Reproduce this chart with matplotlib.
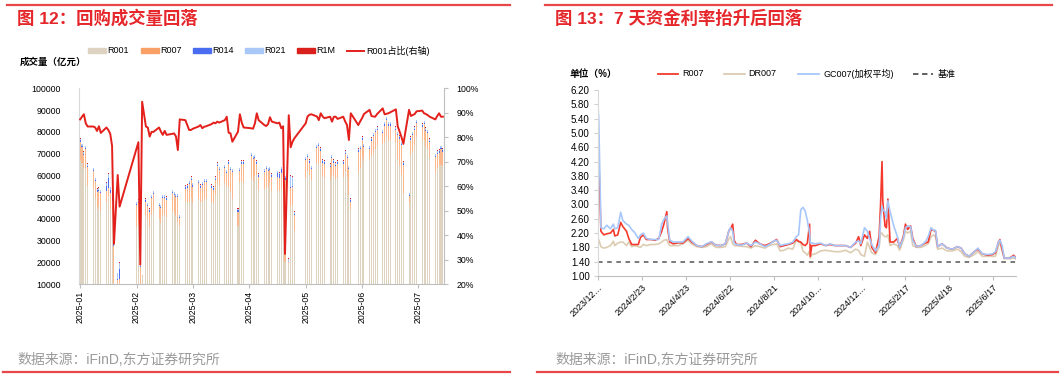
import matplotlib
matplotlib.use("Agg")
import matplotlib.pyplot as plt
from matplotlib.patches import Rectangle
from matplotlib.lines import Line2D
import numpy as np
import pandas as pd

plt.rcParams['font.family'] = ['Liberation Sans', 'Noto Sans CJK SC']
plt.rcParams['axes.unicode_minus'] = False

# ---------------- 图12 数据 (亿元) ----------------
days = [
    '2025-01-06', '2025-01-07', '2025-01-08', '2025-01-09', '2025-01-10',
    '2025-01-13', '2025-01-14', '2025-01-15', '2025-01-16', '2025-01-17',
    '2025-01-20', '2025-01-21', '2025-01-22', '2025-01-23', '2025-01-24',
    '2025-01-26', '2025-01-27',
    '2025-02-05', '2025-02-06', '2025-02-07', '2025-02-08',
    '2025-02-10', '2025-02-11', '2025-02-12', '2025-02-13', '2025-02-14',
    '2025-02-17', '2025-02-18', '2025-02-19', '2025-02-20', '2025-02-21',
    '2025-02-24', '2025-02-25', '2025-02-26', '2025-02-27', '2025-02-28',
    '2025-03-03', '2025-03-04', '2025-03-05', '2025-03-06', '2025-03-07',
    '2025-03-10', '2025-03-11', '2025-03-12', '2025-03-13', '2025-03-14',
    '2025-03-17', '2025-03-18', '2025-03-19', '2025-03-20', '2025-03-21',
    '2025-03-24', '2025-03-25', '2025-03-26', '2025-03-27', '2025-03-28',
    '2025-03-31', '2025-04-01', '2025-04-02', '2025-04-03',
    '2025-04-07', '2025-04-08', '2025-04-09', '2025-04-10', '2025-04-11',
    '2025-04-14', '2025-04-15', '2025-04-16', '2025-04-17', '2025-04-18',
    '2025-04-21', '2025-04-22', '2025-04-23', '2025-04-24', '2025-04-25',
    '2025-04-27', '2025-04-28', '2025-04-29', '2025-04-30',
    '2025-05-06', '2025-05-07', '2025-05-08', '2025-05-09',
    '2025-05-12', '2025-05-13', '2025-05-14', '2025-05-15', '2025-05-16',
    '2025-05-19', '2025-05-20', '2025-05-21', '2025-05-22', '2025-05-23',
    '2025-05-26', '2025-05-27', '2025-05-28', '2025-05-29', '2025-05-30',
    '2025-06-03', '2025-06-04', '2025-06-05', '2025-06-06',
    '2025-06-09', '2025-06-10', '2025-06-11', '2025-06-12', '2025-06-13',
    '2025-06-16', '2025-06-17', '2025-06-18', '2025-06-19', '2025-06-20',
    '2025-06-23', '2025-06-24', '2025-06-25', '2025-06-26', '2025-06-27',
    '2025-06-30', '2025-07-01', '2025-07-02', '2025-07-03', '2025-07-04',
    '2025-07-07', '2025-07-08', '2025-07-09', '2025-07-10', '2025-07-11',
    '2025-07-14', '2025-07-15', '2025-07-16', '2025-07-17', '2025-07-18',
]

r001 = [
    67200, 65900, 63500, 63000, 55300,
    53600, 49600, 44600, 46100, 43600,
    47700, 50600, 44700, 40800, 10500,
    9900, 10500,
    36200, 38200, 5200, 13700,
    41800, 39900, 36100, 41900, 43600,
    39900, 38300, 41300, 42100, 40900,
    43500, 42800, 41400, 38500, 36700,
    48300, 47600, 47700, 49400, 47200,
    49000, 47600, 47700, 49300, 49400,
    47800, 47300, 51000, 57000, 55000,
    56600, 55300, 54900, 52200, 49300,
    37000, 56800, 57600, 56300,
    59000, 57600, 59600, 60200, 53100,
    53600, 54600, 54200, 56400, 52700,
    53100, 52900, 53600, 53200, 20100,
    19600, 45500, 46500, 34600,
    58700, 62000, 60200, 57700,
    65500, 65300, 65600, 59700, 58800,
    57900, 60000, 59700, 58300, 58600,
    59200, 61800, 59100, 50900, 44500,
    61600, 63600, 68500, 66700,
    67000, 68700, 70400, 72000, 73800,
    74400, 75500, 78000, 75900, 76200,
    75400, 67500, 64600, 60400, 51400,
    47400, 69200, 71300, 73800, 77500,
    76400, 76300, 73400, 72100, 68100,
    61100, 63400, 64700, 65000, 64100,
]

r007 = [
    8200, 7000, 5900, 8900, 8600,
    8300, 7800, 7800, 6800, 8100,
    5100, 3400, 7100, 8000, 17300,
    2200, 1900,
    10200, 9200, 12700, 500,
    6100, 6000, 7300, 7500, 7800,
    6000, 6600, 8100, 7300, 8000,
    8400, 8100, 8500, 11400, 3700,
    5600, 6800, 8200, 8500, 7700,
    7400, 6800, 7700, 7600, 7500,
    6600, 6100, 6900, 7400, 7400,
    6800, 5600, 10500, 10200, 12100,
    6400, 5100, 7800, 9100,
    9900, 9800, 8300, 5200, 6300,
    7800, 8300, 7700, 6000, 6700,
    6400, 6100, 7400, 6300, 37900,
    600, 8500, 8000, 7300,
    8200, 6400, 5700, 5200,
    6900, 8100, 5800, 6200, 6600,
    6000, 7900, 6200, 6100, 6800,
    6200, 8100, 8800, 12000, 3400,
    9300, 8300, 7900, 6200,
    4900, 7200, 7500, 7900, 7100,
    5000, 7400, 7400, 7000, 6700,
    5500, 10900, 12300, 13500, 13500,
    3000, 7200, 7100, 7100, 6400,
    6000, 7100, 7000, 7300, 7300,
    7300, 6500, 5700, 6900, 6800,
]

r014 = [
    700, 600, 500, 800, 600,
    600, 500, 700, 600, 600,
    2500, 5000, 1500, 3000, 500,
    500, 4500,
    600, 600, 300, 100,
    600, 600, 600, 600, 600,
    600, 600, 600, 600, 600,
    600, 600, 600, 600, 600,
    600, 600, 600, 600, 600,
    600, 600, 600, 600, 600,
    600, 600, 600, 600, 600,
    600, 600, 600, 600, 600,
    600, 600, 600, 600,
    600, 600, 600, 600, 600,
    600, 600, 600, 600, 600,
    1500, 1500, 2000, 2500, 800,
    200, 600, 600, 600,
    600, 600, 600, 600,
    600, 600, 600, 600, 600,
    600, 600, 600, 600, 600,
    600, 600, 600, 600, 600,
    600, 600, 600, 600,
    600, 600, 600, 600, 600,
    600, 600, 600, 600, 600,
    600, 600, 600, 600, 600,
    600, 600, 600, 600, 600,
    600, 600, 600, 600, 600,
    600, 600, 600, 600, 600,
]

r021 = [
    700, 800, 900, 600, 800,
    800, 900, 800, 800, 800,
    1300, 1800, 1300, 1300, 400,
    2500, 3000,
    800, 800, 200, 100,
    800, 800, 800, 800, 800,
    800, 800, 800, 800, 800,
    800, 800, 800, 800, 800,
    800, 800, 800, 800, 800,
    800, 800, 800, 800, 800,
    800, 800, 800, 800, 800,
    800, 800, 800, 800, 800,
    800, 800, 800, 800,
    800, 800, 800, 800, 800,
    800, 800, 800, 800, 800,
    800, 800, 800, 800, 800,
    1400, 5000, 4000, 800,
    800, 800, 800, 800,
    800, 800, 800, 800, 800,
    800, 800, 800, 800, 800,
    800, 800, 800, 800, 800,
    800, 800, 800, 800,
    800, 800, 800, 800, 800,
    800, 800, 800, 800, 800,
    800, 800, 800, 800, 800,
    800, 800, 800, 800, 800,
    800, 800, 800, 800, 800,
    800, 800, 800, 800, 800,
]

r1m = [
    200, 200, 200, 200, 200,
    200, 200, 200, 200, 200,
    200, 200, 200, 200, 100,
    200, 500,
    200, 200, 100, 100,
    200, 200, 200, 200, 200,
    200, 200, 200, 200, 200,
    200, 200, 200, 200, 200,
    200, 200, 200, 200, 200,
    200, 200, 200, 200, 200,
    200, 200, 200, 200, 200,
    200, 200, 200, 200, 200,
    200, 200, 200, 200,
    200, 200, 200, 200, 200,
    200, 200, 200, 200, 200,
    200, 200, 200, 200, 200,
    200, 400, 400, 200,
    200, 200, 200, 200,
    200, 200, 200, 200, 200,
    200, 200, 200, 200, 200,
    200, 200, 200, 200, 200,
    200, 200, 200, 200,
    200, 200, 200, 200, 200,
    200, 200, 200, 200, 200,
    200, 200, 200, 200, 200,
    200, 200, 200, 200, 200,
    200, 200, 200, 200, 200,
    200, 200, 200, 200, 200,
]

# R001占比 (%)
r001_share = [
    87.3, 88.4, 89.4, 85.7, 84.4,
    84.4, 84.0, 82.6, 84.5, 81.8,
    84.0, 83.0, 81.5, 76.5, 36.5,
    64.6, 51.7,
    75.5, 78.0, 28.0, 94.5,
    84.4, 84.0, 80.3, 82.2, 82.2,
    84.0, 82.3, 81.0, 82.6, 81.0,
    81.4, 81.6, 80.3, 74.8, 87.3,
    87.0, 85.0, 83.0, 83.0, 83.5,
    84.4, 85.0, 83.7, 84.3, 84.5,
    85.4, 86.0, 85.7, 86.4, 86.0,
    87.0, 88.4, 81.9, 81.6, 78.2,
    82.3, 89.4, 86.0, 84.0,
    83.7, 83.5, 85.7, 89.8, 87.0,
    85.0, 84.6, 85.4, 88.2, 86.4,
    85.7, 86.0, 83.7, 84.5, 32.4,
    89.0, 75.9, 78.2, 79.6,
    85.7, 88.5, 89.2, 89.4,
    88.5, 87.0, 89.8, 88.5, 87.8,
    88.4, 86.4, 88.4, 88.4, 87.5,
    88.4, 86.5, 85.0, 78.9, 89.8,
    85.0, 86.5, 87.8, 89.5,
    91.2, 88.7, 88.5, 88.4, 89.5,
    91.8, 89.4, 89.6, 89.8, 90.2,
    91.4, 84.4, 82.3, 80.0, 77.3,
    91.2, 88.7, 89.1, 89.5, 90.6,
    90.9, 89.8, 89.5, 89.0, 88.4,
    87.3, 88.7, 89.8, 88.4, 88.4,
]

# ---------------- 图13 数据 (%) ----------------
rate_dates = [
    '2023-12-25', '2023-12-26', '2023-12-29', '2024-01-02', '2024-01-06',
    '2024-01-11', '2024-01-15', '2024-01-17', '2024-01-21', '2024-01-25',
    '2024-01-28', '2024-02-02', '2024-02-05', '2024-02-09', '2024-02-13',
    '2024-02-18', '2024-02-21', '2024-02-25', '2024-02-29', '2024-03-06',
    '2024-03-12', '2024-03-17', '2024-03-21', '2024-03-24', '2024-03-28',
    '2024-03-29', '2024-04-01', '2024-04-06', '2024-04-13', '2024-04-19',
    '2024-04-26', '2024-05-01', '2024-05-08', '2024-05-15', '2024-05-21',
    '2024-05-28', '2024-06-03', '2024-06-10', '2024-06-16', '2024-06-21',
    '2024-06-23', '2024-06-26', '2024-06-28', '2024-07-01', '2024-07-08',
    '2024-07-15', '2024-07-21', '2024-07-27', '2024-08-02', '2024-08-09',
    '2024-08-15', '2024-08-21', '2024-08-25', '2024-08-30', '2024-09-04',
    '2024-09-10', '2024-09-16', '2024-09-21', '2024-09-24', '2024-09-27',
    '2024-09-30', '2024-10-03', '2024-10-06', '2024-10-09', '2024-10-10',
    '2024-10-12', '2024-10-17', '2024-10-24', '2024-10-31', '2024-11-06',
    '2024-11-13', '2024-11-20', '2024-11-27', '2024-12-04', '2024-12-11',
    '2024-12-15', '2024-12-18', '2024-12-23', '2024-12-27', '2024-12-30',
    '2025-01-02', '2025-01-07', '2025-01-12', '2025-01-14', '2025-01-16',
    '2025-01-17', '2025-01-20', '2025-01-22', '2025-01-24', '2025-01-27',
    '2025-02-01', '2025-02-06', '2025-02-09', '2025-02-14', '2025-02-17',
    '2025-02-20', '2025-02-24', '2025-02-27', '2025-03-04', '2025-03-10',
    '2025-03-16', '2025-03-20', '2025-03-24', '2025-03-27', '2025-03-30',
    '2025-04-02', '2025-04-08', '2025-04-15', '2025-04-22', '2025-04-29',
    '2025-05-04', '2025-05-09', '2025-05-15', '2025-05-22', '2025-05-27',
    '2025-06-02', '2025-06-09', '2025-06-16', '2025-06-20', '2025-06-24',
    '2025-06-26', '2025-06-29', '2025-07-02', '2025-07-09', '2025-07-15',
    '2025-07-18',
]

r007_rate = [
    3.95, 4.40, 2.25, 2.15, 2.18, 2.20, 2.30, 2.12, 2.15, 2.50,
    2.38, 2.25, 2.05, 1.88, 1.88, 1.88, 2.08, 2.15, 2.02, 2.02,
    2.00, 2.05, 2.25, 2.45, 2.80, 2.35, 1.95, 1.90, 1.93, 1.92,
    2.05, 1.95, 1.85, 1.82, 1.88, 1.95, 1.86, 1.85, 1.90, 2.28,
    2.32, 2.45, 2.00, 1.88, 1.88, 1.92, 1.82, 2.00, 1.90, 1.85,
    1.90, 1.97, 2.02, 1.82, 1.85, 1.88, 1.92, 2.02, 1.97, 1.95,
    1.88, 1.85, 1.92, 2.45, 1.55, 1.85, 1.85, 1.90, 1.85, 1.88,
    1.85, 1.85, 1.85, 1.80, 1.92, 2.10, 1.85, 2.15, 2.05, 2.25,
    1.80, 1.65, 2.10, 3.00, 4.20, 3.10, 2.40, 2.35, 3.15, 1.95,
    1.95, 2.05, 1.80, 2.10, 2.45, 2.30, 2.40, 2.05, 1.82, 1.85,
    1.92, 1.95, 2.30, 2.28, 2.25, 1.82, 1.90, 1.78, 1.75, 1.82,
    1.78, 1.62, 1.55, 1.68, 1.75, 1.62, 1.58, 1.60, 1.65, 1.95,
    2.02, 1.75, 1.50, 1.50, 1.58, 1.50,
]

dr007_rate = [
    1.85, 2.02, 1.82, 1.78, 1.80, 1.85, 1.97, 1.85, 1.92, 1.95,
    1.95, 1.85, 1.95, 1.82, 1.85, 1.82, 1.80, 1.88, 1.85, 1.88,
    1.88, 1.90, 1.95, 2.00, 2.02, 1.95, 1.85, 1.85, 1.85, 1.90,
    2.00, 1.90, 1.82, 1.80, 1.82, 1.90, 1.80, 1.80, 1.82, 2.05,
    2.10, 1.90, 1.85, 1.85, 1.83, 1.82, 1.78, 1.85, 1.82, 1.78,
    1.85, 1.88, 1.90, 1.70, 1.72, 1.78, 1.75, 2.00, 1.95, 1.92,
    1.70, 1.65, 1.58, 1.70, 1.50, 1.60, 1.62, 1.70, 1.72, 1.70,
    1.68, 1.68, 1.72, 1.65, 1.75, 1.72, 1.60, 1.55, 1.95, 1.80,
    1.65, 1.60, 1.80, 2.20, 2.20, 2.15, 2.10, 2.10, 2.15, 1.85,
    1.90, 1.85, 1.72, 2.00, 2.25, 2.20, 2.25, 1.85, 1.80, 1.80,
    1.85, 1.90, 2.10, 2.15, 2.10, 1.75, 1.78, 1.70, 1.70, 1.75,
    1.68, 1.55, 1.52, 1.60, 1.68, 1.55, 1.55, 1.55, 1.55, 1.85,
    1.95, 1.70, 1.48, 1.48, 1.50, 1.48,
]

gc007_rate = [
    5.70, 5.40, 2.35, 2.32, 2.42, 2.32, 2.45, 2.32, 2.35, 2.78,
    2.55, 2.45, 2.42, 2.30, 2.22, 2.05, 2.15, 2.20, 2.05, 2.02,
    2.02, 2.02, 2.45, 2.58, 2.68, 2.50, 2.00, 1.95, 1.95, 1.95,
    2.10, 1.98, 1.85, 1.82, 1.90, 1.96, 1.86, 1.85, 1.90, 2.28,
    2.35, 2.25, 1.92, 1.88, 1.86, 1.92, 1.85, 1.95, 1.90, 1.82,
    1.88, 1.98, 2.00, 1.85, 1.88, 1.90, 1.95, 2.10, 2.15, 2.85,
    2.92, 2.82, 2.55, 2.20, 1.92, 1.92, 1.90, 1.92, 1.85, 1.90,
    1.85, 1.85, 1.85, 1.80, 1.95, 1.98, 1.90, 2.35, 2.25, 2.05,
    1.88, 1.70, 1.85, 2.60, 2.95, 2.85, 2.80, 2.60, 3.10, 2.80,
    2.40, 2.10, 1.80, 2.05, 2.35, 2.40, 2.38, 2.00, 1.82, 1.85,
    1.95, 2.10, 2.35, 2.28, 2.28, 1.82, 1.90, 1.78, 1.75, 1.82,
    1.78, 1.62, 1.55, 1.68, 1.78, 1.62, 1.60, 1.62, 1.68, 1.95,
    2.00, 1.85, 1.50, 1.50, 1.55, 1.50,
]
benchmark = 1.40

W, H = 1061, 385


def fx(x):
    return x / W


def fy(y):
    return 1 - y / H


red_title = '#E5262A'
fig = plt.figure(figsize=(W / 100, H / 100), dpi=100)

# 标题与框线
for x0, x1 in [(7, 510), (545, 1052)]:
    fig.add_artist(Line2D([fx(x0), fx(x1)], [fy(5), fy(5)], color='#E8474A', lw=1.6))
for x0, x1 in [(3, 510), (537, 1058)]:
    fig.add_artist(Line2D([fx(x0), fx(x1)], [fy(372), fy(372)], color='#E8474A', lw=1.6))
fig.text(fx(17), fy(18), '图 12：回购成交量回落', color=red_title, fontsize=12.5,
         fontweight='bold', va='center', ha='left')
fig.text(fx(555), fy(18), '图 13：7 天资金利率抬升后回落', color=red_title, fontsize=12.5,
         fontweight='bold', va='center', ha='left')
fig.text(fx(17), fy(360), '数据来源：iFinD,东方证券研究所', color='#9A9A9A', fontsize=10,
         va='center', ha='left')
fig.text(fx(555), fy(360), '数据来源：iFinD,东方证券研究所', color='#9A9A9A', fontsize=10,
         va='center', ha='left')

# ---------------- 左图 ----------------
c001, c007, c014, c021, c1m = '#DDD3C0', '#F9A066', '#4A6CF0', '#A9C8F7', '#D9201C'
cline = '#E3201B'

d = pd.to_datetime(days)
ax = fig.add_axes([fx(79), fy(284.3), fx(444) - fx(79), fy(88.3) - fy(284.3)])
b1 = np.array(r001)
b2 = b1 + np.array(r007)
b3 = b2 + np.array(r014)
b4 = b3 + np.array(r021)
wd = 0.55
ax.bar(d, r001, width=wd, color=c001, linewidth=0)
ax.bar(d, r007, bottom=b1, width=wd, color=c007, linewidth=0, alpha=0.75)
ax.bar(d, r014, bottom=b2, width=wd, color=c014, linewidth=0)
ax.bar(d, r021, bottom=b3, width=wd, color=c021, linewidth=0)
ax.bar(d, r1m, bottom=b4, width=wd, color=c1m, linewidth=0)

start = pd.Timestamp('2025-01-06')
ax.set_xlim(start - pd.Timedelta(days=0.6), pd.Timestamp('2025-07-18') + pd.Timedelta(days=0.6))
ax.set_ylim(10000, 100000)
ax.set_yticks(np.arange(10000, 100001, 10000))
ticks = [start + pd.Timedelta(days=30 * k) for k in range(7)]
ax.set_xticks(ticks)
ax.set_xticklabels([t.strftime('%Y-%m') for t in ticks], rotation=90, fontsize=6.3)
ax.tick_params(axis='y', labelsize=6.3, length=0, pad=13)
ax.tick_params(axis='x', length=3, color='#BFBFBF', pad=2)
ax.spines['top'].set_visible(False)
ax.spines['left'].set_color('#D9D9D9')
ax.spines['bottom'].set_color('#BFBFBF')
ax.spines['right'].set_visible(False)

ax_r = ax.twinx()
ax_r.plot(d, r001_share, color=cline, lw=1.4, zorder=5)
ax_r.set_ylim(20, 100)
ax_r.set_yticks(np.arange(20, 101, 10))
ax_r.set_yticklabels([f'{v}%' for v in range(20, 101, 10)])
ax_r.tick_params(axis='y', labelsize=6.3, length=3, color='#BFBFBF', pad=6)
ax_r.spines['top'].set_visible(False)
ax_r.spines['left'].set_visible(False)
ax_r.spines['bottom'].set_visible(False)
ax_r.spines['right'].set_color('#BFBFBF')

fig.text(fx(20), fy(62), '成交量（亿元）', fontsize=6.8, fontweight='bold', va='center', ha='left')

# 左图图例
leg_y = 50.5
for x, c in [(88, c001), (141, c007), (193, c014), (245, c021), (297, c1m)]:
    fig.add_artist(Rectangle((fx(x), fy(leg_y + 2.5)), fx(18), 5 / H, color=c,
                             transform=fig.transFigure))
fig.add_artist(Line2D([fx(347), fx(364)], [fy(leg_y), fy(leg_y)], color=cline, lw=1.4))
for x, t in [(107, 'R001'), (160, 'R007'), (212, 'R014'), (264, 'R021'), (316, 'R1M'),
             (366, 'R001占比(右轴)')]:
    fig.text(fx(x), fy(leg_y), t, fontsize=6.5, va='center', ha='left')

# ---------------- 右图 ----------------
cr, cd, cg = '#F5392D', '#DCCDB2', '#A7C7FA'
rd = pd.to_datetime(rate_dates)
ax2 = fig.add_axes([fx(598), fy(276), fx(1016) - fx(598), fy(90) - fy(276)])
ax2.plot(rd, dr007_rate, color=cd, lw=1.2)
ax2.plot(rd, r007_rate, color=cr, lw=1.2)
ax2.plot(rd, gc007_rate, color=cg, lw=1.2)
ax2.axhline(benchmark, color='#555555', lw=1.1, ls=(0, (3, 3)))

s2 = pd.Timestamp('2023-12-25')
ax2.set_xlim(s2, pd.Timestamp('2025-07-18'))
ax2.set_ylim(1.0, 6.2)
ax2.set_yticks(np.round(np.arange(1.0, 6.21, 0.4), 2))
ax2.set_yticklabels([f'{v:.2f}' for v in np.arange(1.0, 6.21, 0.4)])
t2 = [s2 + pd.Timedelta(days=60 * k) for k in range(10)]
lab2 = []
for t in t2:
    s = f'{t.year}/{t.month}/{t.day}'
    if len(s) > 9:
        s = s[:7] + '…'
    lab2.append(s)
ax2.set_xticks(t2)
ax2.set_xticklabels(lab2, rotation=45, ha='right', rotation_mode='anchor', fontsize=6.5)
ax2.tick_params(axis='y', labelsize=7, length=3, color='#D0D0D0', pad=3)
ax2.tick_params(axis='x', length=3, color='#BFBFBF', pad=2)
ax2.spines['top'].set_visible(False)
ax2.spines['right'].set_visible(False)
ax2.spines['left'].set_color('#D9D9D9')
ax2.spines['bottom'].set_color('#BFBFBF')

fig.text(fx(569), fy(74), '单位（%）', fontsize=7, fontweight='bold', va='center', ha='left')
ly = 74
for (x0, x1), c, ls in [((658, 678), cr, '-'), ((724, 745), cd, '-'), ((798, 819), cg, '-'),
                        ((913, 933), '#555555', (0, (3, 2)))]:
    fig.add_artist(Line2D([fx(x0), fx(x1)], [fy(ly), fy(ly)], color=c, lw=1.3, ls=ls))
for x, t in [(682, 'R007'), (748, 'DR007'), (823, 'GC007(加权平均)'), (938, '基准')]:
    fig.text(fx(x), fy(ly), t, fontsize=6.5, va='center', ha='left')

fig.savefig('out.png', dpi=100)
